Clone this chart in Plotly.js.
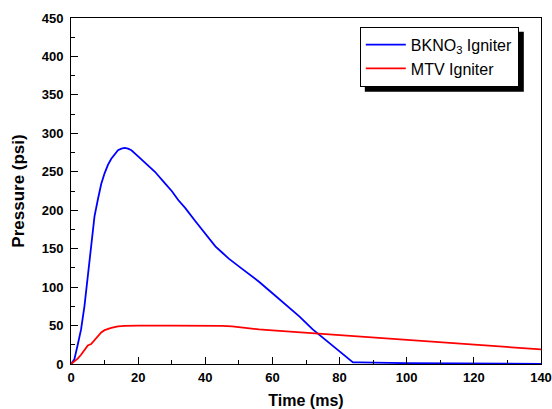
<!DOCTYPE html>
<html>
<head>
<meta charset="utf-8">
<script src="https://cdn.plot.ly/plotly-3.0.1.min.js"></script>
<style>html,body{margin:0;padding:0;background:#fff;}#chart{width:552px;height:409px;}</style>
</head>
<body>
<div id="chart"></div>
<script>
var bkno3Time = [0,1,2,3,4,5,6,7,8,9,10,11,12,13,14,15,16,17,18,20,22,25,28,30,32,34,37,40,43,45,47,50,53,56,60,64,68,72,75,78,80,82,84,86,90,95,100,110,120,130,140];
var bkno3Pressure = [0,6,25,45,75,115,160,192,214,234,248,259,267,273,278,280,281,280,278,270,262,250,235,225,213,203,186,169,153,145,137,127,117,107,92,77,62,45,34,23,16,9.5,2,2,2,1.5,1,1,0.5,0.5,0];
var mtvTime = [0,1,2,3,4,5,6,7,8,9,10,11,12,13,14,16,20,30,40,45,48,50,53,56,60,70,80,90,100,110,120,130,140];
var mtvPressure = [0,3,7,12,18,24,26,31,37,41,44,46,47,48,49,49.5,50,50,50,49.5,49,48,46,45,43.8,40.7,37.6,34.5,31.4,28.3,25.2,22.1,19];
var seriesNames = ['BKNO<sub>3</sub> Igniter', 'MTV Igniter'];

var font = 'Liberation Sans, Arial, sans-serif';
var traces = [
  {x: bkno3Time, y: bkno3Pressure, name: seriesNames[0], mode: 'lines', line: {color: '#0000ff', width: 1.8}},
  {x: mtvTime, y: mtvPressure, name: seriesNames[1], mode: 'lines', line: {color: '#ff0000', width: 1.8}}
];
var axisCommon = {
  showgrid: false, zeroline: false, showline: true, linecolor: '#000', linewidth: 1, mirror: true,
  ticks: 'inside', ticklen: 7, tickwidth: 1, tickcolor: '#000',
  tickfont: {family: font, size: 13, color: '#000', weight: 'bold'}
};
var M = {l: 71, r: 11, t: 18, b: 45};
var W = 552, H = 409;
var layout = {
  width: W, height: H,
  margin: M,
  paper_bgcolor: '#fff', plot_bgcolor: '#fff',
  showlegend: true,
  xaxis: Object.assign({}, axisCommon, {
    range: [0, 140], dtick: 20, tick0: 0, ticklabelstandoff: 1,
    minor: {dtick: 10, ticks: 'inside', ticklen: 4, tickcolor: '#000'},
    title: {text: 'Time (ms)', font: {family: font, size: 16, color: '#000', weight: 'bold'}, standoff: 12}
  }),
  yaxis: Object.assign({}, axisCommon, {
    range: [0, 450], dtick: 50, tick0: 0, ticklabelstandoff: 4,
    minor: {dtick: 25, ticks: 'inside', ticklen: 4, tickcolor: '#000'},
    title: {text: 'Pressure (psi)', font: {family: font, size: 17, color: '#000', weight: 'bold'}, standoff: 12}
  }),
  legend: {
    x: 0.6145, y: 0.975, xanchor: 'left', yanchor: 'top',
    bgcolor: '#fff', bordercolor: '#000', borderwidth: 1,
    font: {family: font, size: 16, color: '#000'},
    itemwidth: 40
  },
  shapes: []
};
Plotly.newPlot('chart', traces, layout, {displayModeBar: false, staticPlot: true}).then(function (gd) {
  var lg = gd._fullLayout.legend;
  var pw = W - M.l - M.r, ph = H - M.t - M.b;
  var left = M.l + layout.legend.x * pw;
  var top = M.t + (1 - layout.legend.y) * ph;
  var off = 5;
  var x0 = (left + off - M.l) / pw, x1 = (left + lg._width + off - M.l) / pw;
  var y1 = (M.t + ph - (top + off)) / ph, y0 = (M.t + ph - (top + lg._height + off)) / ph;
  return Plotly.relayout(gd, {shapes: [{
    type: 'rect', xref: 'paper', yref: 'paper', x0: x0, x1: x1, y0: y0, y1: y1,
    fillcolor: '#000', line: {width: 0}, layer: 'above'
  }]});
});
</script>
</body>
</html>
